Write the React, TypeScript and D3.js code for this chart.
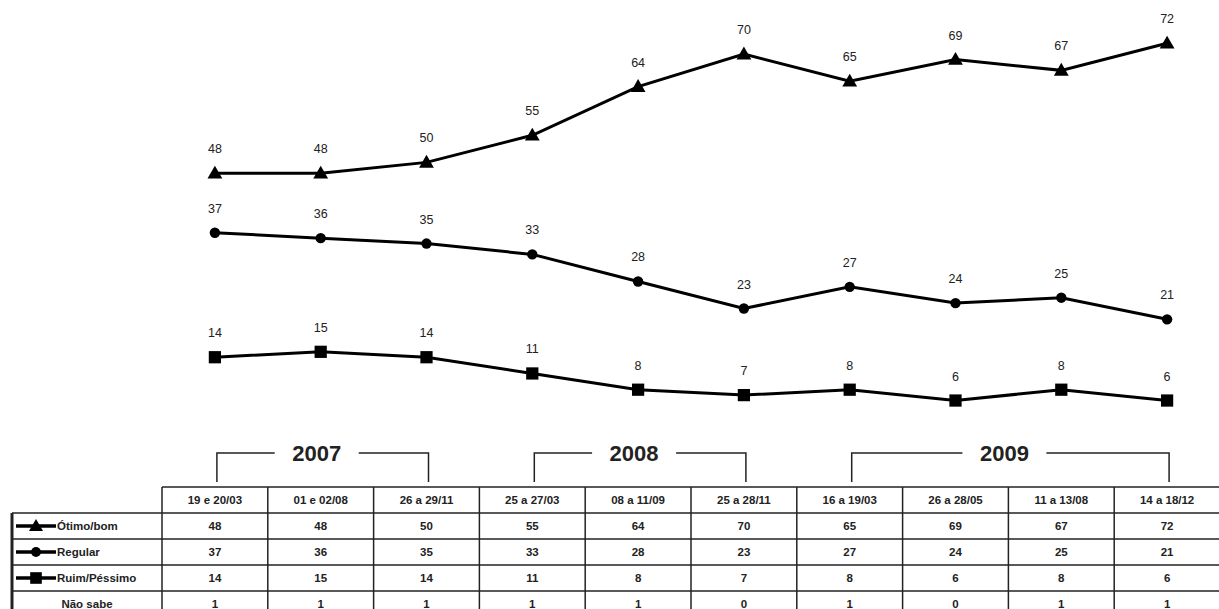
import React, { useEffect, useRef } from "react";
import * as d3 from "d3";

// survey dates (one column each)
const dates = [
  "19 e 20/03", "01 e 02/08", "26 a 29/11",
  "25 a 27/03", "08 a 11/09", "25 a 28/11",
  "16 a 19/03", "26 a 28/05", "11 a 13/08", "14 a 18/12",
];

const otimoBom = [48, 48, 50, 55, 64, 70, 65, 69, 67, 72];
const regular = [37, 36, 35, 33, 28, 23, 27, 24, 25, 21];
const ruimPessimo = [14, 15, 14, 11, 8, 7, 8, 6, 8, 6];
const naoSabe = [1, 1, 1, 1, 1, 0, 1, 0, 1, 1];

// year groups: [label, first column, last column]
const years: [string, number, number][] = [
  ["2007", 0, 2],
  ["2008", 3, 5],
  ["2009", 6, 9],
];

type Marker = "triangle" | "circle" | "square";

const series: { name: string; values: number[]; marker: Marker }[] = [
  { name: "Ótimo/bom", values: otimoBom, marker: "triangle" },
  { name: "Regular", values: regular, marker: "circle" },
  { name: "Ruim/Péssimo", values: ruimPessimo, marker: "square" },
];

const width = 1219;
const height = 609;
const font = "'Liberation Sans', Arial, sans-serif";

const App: React.FC = () => {
  const svgRef = useRef<SVGSVGElement>(null);

  useEffect(() => {
    if (!svgRef.current) return;
    const svg = d3.select(svgRef.current);
    svg.selectAll("*").remove();

    // table geometry
    const tableLeft = 12;
    const colStart = 162;
    const colEnd = 1220;
    const headerTop = 487;
    const rowH = 26;

    const x = d3.scaleBand<number>()
      .domain(d3.range(dates.length))
      .range([colStart, colEnd]);
    const cx = (i: number) => (x(i) as number) + x.bandwidth() / 2;

    const y = d3.scaleLinear().domain([0, 80]).range([433, 0]);

    const markerPath = (m: Marker, size: number) => {
      const sym = m === "triangle" ? d3.symbolTriangle : m === "circle" ? d3.symbolCircle : d3.symbolSquare;
      return d3.symbol().type(sym).size(size)() as string;
    };
    const markerSize: Record<Marker, number> = { triangle: 95, circle: 85, square: 150 };

    // lines
    series.forEach((s) => {
      const line = d3.line<number>()
        .x((_, i) => cx(i))
        .y((d) => y(d));
      svg.append("path")
        .datum(s.values)
        .attr("fill", "none")
        .attr("stroke", "#000")
        .attr("stroke-width", 3)
        .attr("d", line);

      svg.selectAll(`.mk-${s.marker}`)
        .data(s.values)
        .join("path")
        .attr("class", `mk-${s.marker}`)
        .attr("d", markerPath(s.marker, markerSize[s.marker]))
        .attr("transform", (d, i) => `translate(${cx(i)},${y(d) + (s.marker === "triangle" ? 1 : 0)})`)
        .attr("fill", "#000");

      svg.selectAll(`.lb-${s.marker}`)
        .data(s.values)
        .join("text")
        .attr("class", `lb-${s.marker}`)
        .attr("x", (_, i) => cx(i))
        .attr("y", (d) => y(d) - 20)
        .attr("text-anchor", "middle")
        .attr("font-family", font)
        .attr("font-size", 12.5)
        .attr("fill", "#222")
        .text((d) => d);
    });

    // year brackets
    const bTop = 453;
    const bBottom = 482;
    years.forEach(([label, a, b]) => {
      const x0 = cx(a) + 2;
      const x1 = cx(b) + 2;
      const mid = (x0 + x1) / 2 - 6;
      const gap = 42;
      const g = svg.append("g")
        .attr("fill", "none")
        .attr("stroke", "#222")
        .attr("stroke-width", 1.5);
      g.append("path").attr("d", `M${x0},${bBottom}V${bTop}H${mid - gap}`);
      g.append("path").attr("d", `M${mid + gap},${bTop}H${x1}V${bBottom}`);
      svg.append("text")
        .attr("x", mid)
        .attr("y", bTop + 8)
        .attr("text-anchor", "middle")
        .attr("font-family", font)
        .attr("font-weight", "bold")
        .attr("font-size", 22)
        .attr("fill", "#222")
        .text(label);
    });

    // table
    const rows = [...series.map((s) => s.values), naoSabe];
    const rowLabels = [...series.map((s) => s.name), "Não sabe"];
    const tg = svg.append("g").attr("stroke", "#222").attr("stroke-width", 1.5).attr("fill", "none");
    const bodyTop = headerTop + rowH;
    const bottom = bodyTop + rowH * rows.length;

    // horizontal lines
    tg.append("path").attr("d", `M${colStart},${headerTop}H${colEnd}`);
    d3.range(rows.length).forEach((r) => {
      tg.append("path").attr("d", `M${tableLeft},${bodyTop + r * rowH}H${colEnd}`);
    });
    // vertical lines
    tg.append("path").attr("d", `M${tableLeft},${bodyTop}V${bottom}`).attr("stroke-width", 3);
    d3.range(dates.length).forEach((i) => {
      tg.append("path").attr("d", `M${x(i)},${headerTop}V${bottom}`);
    });

    svg.selectAll(".hdr")
      .data(dates)
      .join("text")
      .attr("class", "hdr")
      .attr("x", (_, i) => cx(i))
      .attr("y", headerTop + rowH / 2 + 4)
      .attr("text-anchor", "middle")
      .attr("font-family", font)
      .attr("font-weight", "bold")
      .attr("font-size", 11.5)
      .attr("fill", "#222")
      .text((d) => d);

    rows.forEach((vals, r) => {
      const ry = bodyTop + r * rowH + rowH / 2;
      svg.selectAll(`.cell-${r}`)
        .data(vals)
        .join("text")
        .attr("class", `cell-${r}`)
        .attr("x", (_, i) => cx(i))
        .attr("y", ry + 4)
        .attr("text-anchor", "middle")
        .attr("font-family", font)
        .attr("font-weight", "bold")
        .attr("font-size", 11.5)
        .attr("fill", "#222")
        .text((d) => d);

      if (r < series.length) {
        const m = series[r].marker;
        svg.append("path")
          .attr("d", `M16,${ry}H56`)
          .attr("stroke", "#000")
          .attr("stroke-width", 3.5);
        svg.append("path")
          .attr("d", markerPath(m, markerSize[m] * 0.9))
          .attr("transform", `translate(36,${ry + (m === "triangle" ? 1 : 0)})`)
          .attr("fill", "#000");
        svg.append("text")
          .attr("x", 57)
          .attr("y", ry + 4)
          .attr("font-family", font)
          .attr("font-weight", "bold")
          .attr("font-size", 11.5)
          .attr("fill", "#222")
          .text(rowLabels[r]);
      } else {
        svg.append("text")
          .attr("x", (tableLeft + colStart) / 2)
          .attr("y", ry + 4)
          .attr("text-anchor", "middle")
          .attr("font-family", font)
          .attr("font-weight", "bold")
          .attr("font-size", 11.5)
          .attr("fill", "#222")
          .text(rowLabels[r]);
      }
    });
  }, []);

  return (
    <svg
      ref={svgRef}
      width={width}
      height={height}
      style={{ position: "absolute", left: 0, top: 0, background: "#fff" }}
    />
  );
};

export default App;
